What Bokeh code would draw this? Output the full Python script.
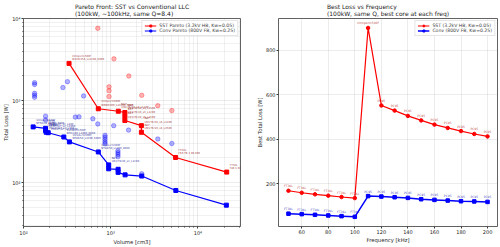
from bokeh.plotting import figure
from bokeh.layouts import row
from bokeh.models import Range1d, FixedTicker, Title, Legend, LegendItem
from bokeh.core.properties import value
from bokeh.embed import file_html
from bokeh.resources import INLINE

FONT = "DejaVu Sans"

# ---------------- Pareto data (volume cm3, total loss W) ----------------
sst_vol = [333, 721, 1223, 1454, 1454, 1454, 2248, 2248, 5546, 21400]
sst_loss = [2834, 793, 740, 714, 640, 570, 494, 410, 202, 134]
sst_labels = [
    "Vitroperm500F\nW380/250_Lx1200_6000",
    "Vitroperm500F\nW600/300_Lx1200_5000",
    "N87\nU93/76/30_x4_L1200",
    "N87\nU93/76/30_x4_L1500",
    "N87\nU93/76/30_x5_L1200",
    "N87\nU93/76/30_x5_L1500",
    "N87\nU93/76/30_x6_L1200",
    "N87\nU93/76/30_x6_L1500",
    "FT3KL\nF60 TR 1.00 000",
    "FT3KL\nF80 1.00 000 00",
]

conv_vol = [129, 179, 179, 182, 192, 290, 336, 721, 948, 948, 1216, 1216, 1463, 2270, 5585, 21200]
conv_loss = [477, 458, 431, 410, 405, 359, 313, 236, 164, 147, 145, 133, 124, 120, 80, 53]
conv_labels = [
    "Vitroperm500F\nNT50/30_Lx500_5000",
    "PC95\nPQ107/87_x2_L800",
    "PC95\nPQ107/87_x2_L1000",
    "PC95\nPQ107/87_x3_L800",
    "PC95\nPQ107/87_x3_L1000",
    "Vitroperm500F\nNT63/40_L1000_6000",
    "Vitroperm500F\nNT80/50_L1200_6000",
    "Vitroperm500F\nNT80/50_L1200_8000",
    "N87\nU93/76/30_x2_L1200",
    "", "", "", "", "", "", "",
]

# all evaluated designs (non-optimal ones drawn faded)
sst_all_vol = [711, 1090, 1614, 957, 957, 957, 2270, 3467, 5025]
sst_all_loss = [7600, 3220, 1986, 1468, 1315, 1117, 1157, 865, 754]

conv_all_vol = [134, 134, 134, 134, 134, 319, 283, 489, 179, 179, 393, 433, 624, 711,
                1082, 1603, 3467, 5025, 861, 861, 861, 861, 861, 1211, 1211, 1211, 1211, 2270]
conv_all_loss = [1652, 1570, 1222, 1157, 1094, 1698, 1439, 1137, 645, 578, 628, 632, 599, 518,
                 494, 436, 339, 299, 376, 356, 334, 313, 297, 244, 231, 219, 207, 128]

# ---------------- Best loss vs frequency ----------------
freq = [50, 60, 70, 80, 90, 100, 110, 120, 130, 140, 150, 160, 170, 180, 190, 200]
sst_best = [169, 160, 153, 147, 141, 136, 900, 552, 529, 505, 485, 466, 451, 437, 424, 413]
sst_core = ["FT3KL"] * 6 + ["Vitroperm500F"] + ["PC95"] * 9
conv_best = [66, 64, 61, 58, 55, 52, 145, 143, 140, 137, 131, 128, 125, 122, 121, 119]
conv_core = ["FT3KL"] * 6 + ["PC95"] * 10

log_ticks = [100, 1000, 10000]
log_tick_text = {100: "10²", 1000: "10³", 10000: "10⁴"}
minor_log = [m * d for d in (10, 100, 1000, 10000) for m in range(2, 10)]


def style(p):
    p.outline_line_color = "#3a3a3a"
    p.outline_line_width = 0.8
    p.background_fill_color = "white"
    p.border_fill_color = "white"
    for ax in p.axis:
        ax.axis_line_color = None
        ax.major_tick_line_color = "#3a3a3a"
        ax.major_tick_out = 2
        ax.major_tick_in = 0
        ax.minor_tick_line_color = "#3a3a3a"
        ax.minor_tick_out = 1
        ax.minor_tick_in = 0
        ax.major_label_text_font = FONT
        ax.major_label_text_font_size = "5px"
        ax.major_label_text_color = "#222222"
        ax.major_label_standoff = 1
        ax.axis_label_text_font = FONT
        ax.axis_label_text_font_size = "5.3px"
        ax.axis_label_text_font_style = "normal"
        ax.axis_label_text_color = "#222222"
        ax.axis_label_standoff = 0
    for g in p.grid:
        g.grid_line_color = "#b0b0b0"
        g.grid_line_alpha = 0.3
        g.grid_line_width = 0.8


def add_titles(p, main, sub):
    p.add_layout(Title(text=main + "\n" + sub, align="center", text_font=FONT,
                       text_font_size="6px", text_line_height=1.05,
                       text_font_style="normal", text_color="#222222",
                       standoff=2, offset=0), "above")


def make_legend(items):
    return Legend(items=items, location="top_right", label_text_font=FONT,
                  label_text_font_size="4.6px", glyph_width=12, glyph_height=5,
                  label_height=5, label_standoff=3, padding=2, spacing=0, margin=2,
                  border_line_color="#cccccc", border_line_width=0.8,
                  background_fill_alpha=0.85)


# ================= left: Pareto front =================
p1 = figure(width=250, height=247, x_axis_type="log", y_axis_type="log",
            x_range=Range1d(100, 30800), y_range=Range1d(29.1, 10000),
            output_backend="svg", toolbar_location=None, title=None,
            min_border_left=21, min_border_right=10, min_border_top=16, min_border_bottom=18)
add_titles(p1, "Pareto Front: SST vs Conventional LLC", "(100kW, ~100kHz, same Q=8.4)")
p1.xaxis.axis_label = "Volume [cm3]"
p1.yaxis.axis_label = "Total Loss [W]"
p1.xaxis.ticker = FixedTicker(ticks=log_ticks, minor_ticks=minor_log)
p1.yaxis.ticker = FixedTicker(ticks=log_ticks, minor_ticks=minor_log)
p1.xaxis.major_label_overrides = log_tick_text
p1.yaxis.major_label_overrides = log_tick_text
style(p1)
p1.xgrid.minor_grid_line_color = "#b0b0b0"
p1.xgrid.minor_grid_line_alpha = 0.18
p1.ygrid.minor_grid_line_color = "#b0b0b0"
p1.ygrid.minor_grid_line_alpha = 0.18

p1.scatter(sst_all_vol, sst_all_loss, marker="circle", size=4.5, color="red", alpha=0.3)
p1.scatter(conv_all_vol, conv_all_loss, marker="circle", size=4.5, color="blue", alpha=0.3)

l_sst = p1.line(sst_vol, sst_loss, color="red", line_width=1.2)
m_sst = p1.scatter(sst_vol, sst_loss, marker="square", size=4, color="red")
l_conv = p1.line(conv_vol, conv_loss, color="blue", line_width=1.2)
m_conv = p1.scatter(conv_vol, conv_loss, marker="square", size=4, color="blue")

p1.text(sst_vol, sst_loss, text=sst_labels, text_font=value(FONT), text_font_size="2.6px",
        text_color="darkred", text_alpha=0.85, text_baseline="bottom",
        text_line_height=1.1, x_offset=3, y_offset=-2)
p1.text(conv_vol, conv_loss, text=conv_labels, text_font=value(FONT), text_font_size="2.6px",
        text_color="darkblue", text_alpha=0.85, text_baseline="bottom",
        text_line_height=1.1, x_offset=3, y_offset=-2)

p1.add_layout(make_legend([
    LegendItem(label="SST Pareto (3.2kV HB, Kw=0.05)", renderers=[l_sst, m_sst]),
    LegendItem(label="Conv Pareto (800V FB, Kw=0.25)", renderers=[l_conv, m_conv]),
]))

# ================= right: best loss vs frequency =================
p2 = figure(width=250, height=247, x_range=Range1d(42.5, 207.5), y_range=Range1d(8.5, 942.5),
            output_backend="svg", toolbar_location=None, title=None,
            min_border_left=28, min_border_right=3, min_border_top=16, min_border_bottom=18)
add_titles(p2, "Best Loss vs Frequency", "(100kW, same Q, best core at each freq)")
p2.xaxis.axis_label = "Frequency [kHz]"
p2.yaxis.axis_label = "Best Total Loss [W]"
p2.xaxis.ticker = FixedTicker(ticks=[60, 80, 100, 120, 140, 160, 180, 200], minor_ticks=[])
p2.yaxis.ticker = FixedTicker(ticks=[200, 400, 600, 800], minor_ticks=[])
style(p2)

r_sst = p2.line(freq, sst_best, color="red", line_width=1.2)
rm_sst = p2.scatter(freq, sst_best, marker="circle", size=3.5, color="red")
r_conv = p2.line(freq, conv_best, color="blue", line_width=1.5)
rm_conv = p2.scatter(freq, conv_best, marker="square", size=3.5, color="blue")

p2.text(freq, sst_best, text=sst_core, text_font=value(FONT), text_font_size="3px",
        text_color="#b22222", text_alpha=0.85, text_align="center", text_baseline="bottom",
        y_offset=-3)
p2.text(freq, conv_best, text=conv_core, text_font=value(FONT), text_font_size="3px",
        text_color="#2222b2", text_alpha=0.85, text_align="center", text_baseline="bottom",
        y_offset=-3)

p2.add_layout(make_legend([
    LegendItem(label="SST (3.2kV HB, Kw=0.05)", renderers=[r_sst, rm_sst]),
    LegendItem(label="Conv (800V FB, Kw=0.25)", renderers=[r_conv, rm_conv]),
]))

layout = row(p1, p2)
open("out.html", "w").write(file_html(layout, INLINE))
